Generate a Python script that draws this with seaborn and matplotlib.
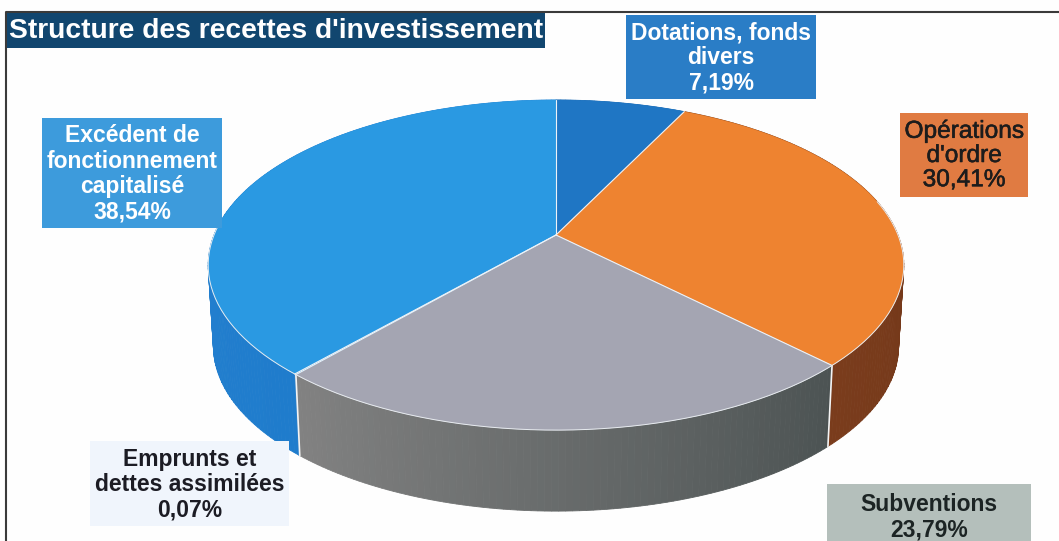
import numpy as np
import matplotlib
matplotlib.use("Agg")
import matplotlib.pyplot as plt
import matplotlib.patheffects as pe
from matplotlib.patches import Rectangle
import seaborn as sns

# chart data
categories = ["Dotations, fonds\ndivers", "Opérations\nd'ordre", "Subventions",
              "Emprunts et\ndettes assimilées", "Excédent de\nfonctionnement\ncapitalisé"]
shares = [7.19, 30.41, 23.79, 0.07, 38.54]
share_labels = ["7,19%", "30,41%", "23,79%", "0,07%", "38,54%"]
title = "Structure des recettes d'investissement"

# colours
top_colors = ["#1f76c4", "#ee8330", "#a4a5b2", "#2a93dd", "#2a99e2"]
wall_left = ["#1f6cb4", "#7a3c1c", "#828282", "#2a80cc", "#2c86d4"]
wall_right = ["#1f6cb4", "#6a3216", "#4c5353", "#2a80cc", "#1f7ccc"]
box_colors = ["#2a7dc6", "#e07b42", "#b4bfbb", "#f0f5fc", "#3d9bdc"]
text_colors = ["white", "#1c1c1c", "#1c2424", "#1c1c24", "white"]
text_weights = ["bold", "normal", "bold", "bold", "bold"]

# label boxes: left, top, right, bottom in pixels
boxes = [(626, 15, 816, 99), (900, 113, 1028, 197), (827, 484, 1031, 548),
         (90, 441, 289, 526), (42, 118, 222, 228)]

# projection of the pie
cx, cy = 556, 235
a, b, k = 342, 159.6, 0.182
depth, shrink = 81, 0.985


def project(theta):
    u, v = np.sin(theta), np.cos(theta)
    w = 1 + k * v
    return cx + a * u / w, cy - b * v / w


sns.set_theme(style="white")
plt.rcParams["font.family"] = ["Liberation Sans", "DejaVu Sans"]

fig = plt.figure(figsize=(10.59, 5.41), dpi=100, facecolor="#fefefe")
ax = fig.add_axes([0, 0, 1, 1])
ax.set_xlim(0, 1059)
ax.set_ylim(541, 0)
ax.axis("off")

edges = 2 * np.pi * np.concatenate([[0], np.cumsum(shares)]) / 100

# side wall, back to front
quads = []
for i in range(len(shares)):
    n = max(2, int((edges[i + 1] - edges[i]) * 60))
    th = np.linspace(edges[i], edges[i + 1], n + 1)
    left = np.array(matplotlib.colors.to_rgb(wall_left[i]))
    right = np.array(matplotlib.colors.to_rgb(wall_right[i]))
    for j in range(n):
        t = j / max(n - 1, 1)
        # the wall runs right to left along the front, so flip the ramp
        col = right * (1 - t) + left * t
        quads.append((np.cos(th[j]), th[j], th[j + 1], col))
quads.sort(key=lambda q: -q[0])
for _, t0, t1, col in quads:
    th = np.linspace(t0, t1, 4)
    x, y = project(th)
    xb = cx + shrink * (x - cx)
    yb = y + depth
    ax.fill(np.r_[x, xb[::-1]], np.r_[y, yb[::-1]], color=col, lw=0.6, zorder=2)

# white seams on the wall
for e in [edges[2], edges[3]]:
    x, y = project(np.array([e]))
    ax.plot([x[0], cx + shrink * (x[0] - cx)], [y[0], y[0] + depth], color="#f4f4f4", lw=1.2, zorder=3)

# top face, white only on the spokes and where the rim meets the wall
for i in range(len(shares)):
    n = max(2, int((edges[i + 1] - edges[i]) * 120))
    x, y = project(np.linspace(edges[i], edges[i + 1], n))
    ax.fill(np.r_[cx, x], np.r_[cy, y], facecolor=top_colors[i], edgecolor=top_colors[i], lw=0.3, zorder=4)
for e in edges[:-1]:
    x, y = project(np.array([e]))
    ax.plot([cx, x[0]], [cy, y[0]], color="#eef2f6", lw=0.8, zorder=4.5)
x, y = project(np.linspace(edges[1] + 0.9, edges[4] + 0.9, 200))
ax.plot(x, y, color="#e8ecf0", lw=0.7, zorder=4.5)

# border and title
ax.plot([6, 6, 1059], [541, 12, 12], color="#3a3a3a", lw=1.5, zorder=1)
ax.add_patch(Rectangle((7, 13), 538, 35, facecolor="#11466f", edgecolor="none", zorder=5))
ax.text(276, 31, title, color="white", fontsize=20.3, fontweight="bold", ha="center", va="center", zorder=6)

# labels
for i, (l, t, r, bt) in enumerate(boxes):
    ax.add_patch(Rectangle((l, t), r - l, bt - t, facecolor=box_colors[i], edgecolor="none", zorder=5))
    size = 17.6 if text_weights[i] == "normal" else 16.5
    txt = ax.text((l + r) / 2, (t + bt) / 2 + 1, categories[i] + "\n" + share_labels[i],
                  color=text_colors[i], fontsize=size, fontweight=text_weights[i],
                  ha="center", va="center", linespacing=1.13, zorder=6)
    if text_weights[i] == "normal":
        txt.set_path_effects([pe.withStroke(linewidth=0.4, foreground=text_colors[i])])

fig.savefig("out.png", dpi=100, facecolor=fig.get_facecolor())
